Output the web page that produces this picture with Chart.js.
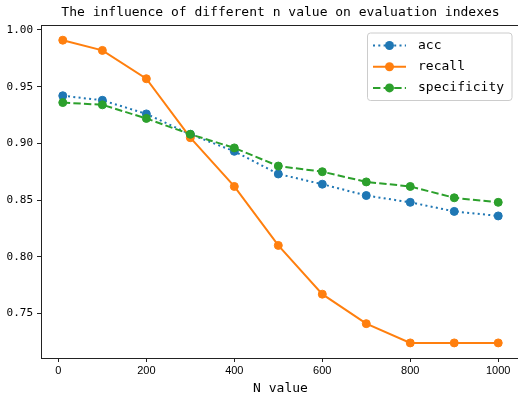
<!DOCTYPE html>
<html>
<head>
<meta charset="utf-8">
<script src="https://cdn.jsdelivr.net/npm/chart.js@4/dist/chart.umd.min.js"></script>
<style>
  html, body { margin: 0; padding: 0; background: #fff; overflow: hidden; }
  canvas { display: block; }
</style>
</head>
<body>
<canvas id="grafico" width="525" height="397"></canvas>
<script>
const N_VALUES = [10, 100, 200, 300, 400, 500, 600, 700, 800, 900, 1000];
const ACC = [0.942, 0.938, 0.926, 0.908, 0.893, 0.873, 0.864, 0.854, 0.848, 0.840, 0.836];
const RECALL = [0.991, 0.982, 0.957, 0.905, 0.862, 0.810, 0.767, 0.741, 0.724, 0.724, 0.724];
const SPECIFICITY = [0.936, 0.934, 0.922, 0.908, 0.896, 0.880, 0.875, 0.866, 0.862, 0.852, 0.848];

const X_TICKS = [0, 200, 400, 600, 800, 1000];
const Y_TICKS = [0.75, 0.80, 0.85, 0.90, 0.95, 1.00];

const TITULO = 'The influence of different n value on evaluation indexes';
const TITULO_X = 'N value';

const series = [
  {label: 'acc', data: ACC, color: '#1f77b4', dash: [2, 3.3], order: 3},
  {label: 'recall', data: RECALL, color: '#ff7f0e', dash: [], order: 2},
  {label: 'specificity', data: SPECIFICITY, color: '#2ca02c', dash: [7.4, 3.2], order: 1},
];

const MONO = '"DejaVu Sans Mono", monospace';

// marcos arriba y derecha + leyenda estilo matplotlib
const extras = {
  id: 'extras',
  afterDraw(chart) {
    const {ctx, chartArea} = chart;
    ctx.save();
    ctx.strokeStyle = '#222';
    ctx.lineWidth = 1;
    ctx.beginPath();
    ctx.moveTo(chartArea.left, chartArea.top + 0.5);
    ctx.lineTo(chartArea.right, chartArea.top + 0.5);
    ctx.moveTo(chartArea.right - 0.5, chartArea.top);
    ctx.lineTo(chartArea.right - 0.5, chartArea.bottom);
    ctx.stroke();

    // caja de la leyenda
    const bx = 367.5, by = 33, bw = 144.5, bh = 67.5, r = 3;
    ctx.beginPath();
    ctx.roundRect(bx, by, bw, bh, r);
    ctx.fillStyle = 'rgba(255,255,255,0.8)';
    ctx.fill();
    ctx.strokeStyle = '#cccccc';
    ctx.stroke();

    chart.data.datasets.forEach((ds, i) => {
      const y = 45.5 + i * 21.2;
      ctx.strokeStyle = ds.borderColor;
      ctx.lineWidth = 2;
      ctx.setLineDash(ds.borderDash);
      ctx.beginPath();
      ctx.moveTo(373, y);
      ctx.lineTo(406, y);
      ctx.stroke();
      ctx.setLineDash([]);
      ctx.fillStyle = ds.borderColor;
      ctx.beginPath();
      ctx.arc(389.5, y, 4.5, 0, Math.PI * 2);
      ctx.fill();
      ctx.fillStyle = '#000';
      ctx.font = '13px ' + MONO;
      ctx.textBaseline = 'middle';
      ctx.textAlign = 'left';
      ctx.fillText(ds.label, 418, y);
    });
    ctx.restore();
  }
};

const ctx = document.getElementById('grafico');

new Chart(ctx, {
  type: 'line',
  data: {
    datasets: series.map(s => ({
      label: s.label,
      data: N_VALUES.map((n, i) => ({x: n, y: s.data[i]})),
      borderColor: s.color,
      backgroundColor: s.color,
      borderDash: s.dash,
      borderWidth: 2,
      pointRadius: 4,
      pointBorderWidth: 1,
      pointBackgroundColor: s.color,
      pointBorderColor: s.color,
      tension: 0,
      order: s.order,
    }))
  },
  options: {
    responsive: false,
    animation: false,
    layout: {padding: {left: 0, right: 2, top: 0, bottom: 0}},
    plugins: {
      legend: {display: false},
      tooltip: {enabled: false},
      title: {
        display: true,
        text: TITULO,
        fullSize: false,
        color: '#000',
        font: {family: MONO, size: 13, weight: 'normal'},
        padding: {top: 5, bottom: 4.4},
      },
    },
    scales: {
      x: {
        type: 'linear',
        min: -39.5,
        max: 1049.5,
        afterBuildTicks: axis => { axis.ticks = X_TICKS.map(v => ({value: v})); },
        afterFit: axis => {
          axis.height = 39;
          axis.paddingLeft = 0;
          axis.paddingRight = 0;
        },
        border: {display: true, color: '#222', width: 1},
        grid: {drawOnChartArea: false, drawTicks: true, tickLength: 4, tickColor: '#222'},
        ticks: {
          color: '#000',
          padding: 2,
          maxRotation: 0,
          font: {family: '"Liberation Sans", Arial, sans-serif', size: 11},
          callback: v => String(v),
        },
        title: {
          display: true,
          text: TITULO_X,
          color: '#000',
          font: {family: MONO, size: 13},
          padding: {top: 0, bottom: 1},
        },
      },
      y: {
        min: 0.7107,
        max: 1.0044,
        afterBuildTicks: axis => { axis.ticks = Y_TICKS.map(v => ({value: v})); },
        afterFit: axis => {
          axis.width = 41;
          axis.paddingTop = 0;
          axis.paddingBottom = 0;
        },
        border: {display: true, color: '#222', width: 1},
        grid: {drawOnChartArea: false, drawTicks: true, tickLength: 4, tickColor: '#222'},
        ticks: {
          color: '#000',
          padding: 4,
          font: {family: MONO, size: 11},
          callback: v => v.toFixed(2),
        },
      },
    },
  },
  plugins: [extras],
});
</script>
</body>
</html>
